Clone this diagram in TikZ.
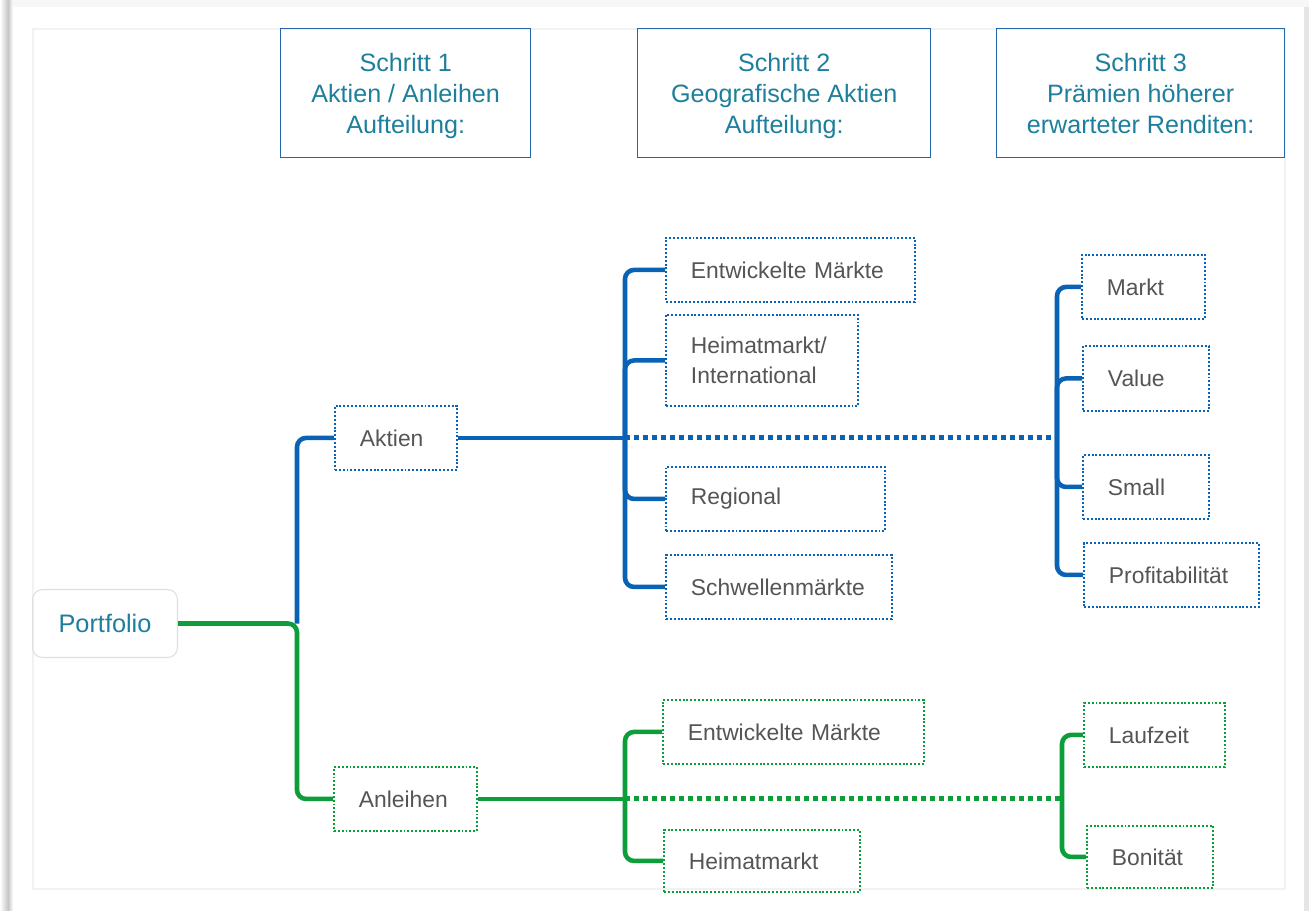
\documentclass[tikz,border=0pt]{standalone}
\usepackage{fontspec}
\setmainfont{Liberation Sans}
\usepackage{xcolor}
\usepackage{tikz}
\usetikzlibrary{calc}
\usetikzlibrary{backgrounds}
\definecolor{headcolor}{HTML}{1E7F9C}
\definecolor{framecolor}{HTML}{2368AE}
\definecolor{bluecolor}{HTML}{0A62B4}
\definecolor{greencolor}{HTML}{0C9E38}
\definecolor{textcolor}{HTML}{555555}

\begin{document}
\begin{tikzpicture}[x=0.02cm,y=-0.02cm,
  stepbox/.style={draw=framecolor,line width=0.8pt,anchor=north west,align=center,
    text=headcolor,font=\fontsize{14.3}{17.6}\selectfont,minimum height=2.58cm},
  rootbox/.style={draw=gray!25,line width=0.6pt,rounded corners=0.2cm,anchor=north west,
    text=headcolor,font=\fontsize{14.4}{17}\selectfont,minimum width=2.9cm,minimum height=1.36cm},
  leafbox/.style={line width=1.1pt,dash pattern=on 1.1pt off 1.1pt,anchor=north west,
    align=left,inner xsep=0.5cm,text=textcolor,font=\fontsize{13}{17}\selectfont,minimum height=1.28cm},
  bluebox/.style={leafbox,draw=bluecolor},
  greenbox/.style={leafbox,draw=greencolor},
  blueline/.style={draw=bluecolor,line width=2.6pt,rounded corners=0.18cm},
  greenline/.style={draw=greencolor,line width=2.6pt,rounded corners=0.18cm},
  bluedots/.style={draw=bluecolor,line width=2.8pt,dash pattern=on 2.8pt off 2.3pt},
  greendots/.style={draw=greencolor,line width=2.8pt,dash pattern=on 2.8pt off 2.3pt}]
\useasboundingbox (0,0) rectangle (1309,911);
\fill[white] (0,0) rectangle (1309,911);
% page frame
\fill[gray!6] (0,0) rectangle (1309,7);
\shade[left color=white,right color=gray!45] (0,0) rectangle (8,911);
\shade[left color=gray!45,right color=white] (8,0) rectangle (13,911);
\fill[gray!20] (1304,7) rectangle (1309,911);
\draw[gray!10,line width=0.6pt] (33,29) rectangle (1285,889);

% steps
\node[stepbox,minimum width=5cm] (s1) at (280,28) {Schritt 1\\Aktien / Anleihen\\Aufteilun\smash{g}:};
\node[stepbox,minimum width=5.86cm] (s2) at (637,28) {Schritt 2\\Geografische Aktien\\Aufteilun\smash{g}:};
\node[stepbox,minimum width=5.76cm] (s3) at (996,28) {Schritt 3\\Prämien höherer\\erwarteter Renditen:};

% tree
\node[rootbox] (port) at (32,589) {Portfolio};
\node[bluebox,text width=1.44cm] (akt) at (334,405) {Aktien};
\node[greenbox,text width=1.86cm] (anl) at (333,766) {Anleihen};

\node[bluebox,text width=3.98cm] (ewA) at (665,237) {Entwickelte Märkte};
\node[bluebox,text width=2.84cm,minimum height=1.82cm] (heimA) at (665,314) {Heimatmarkt/\\International};
\node[bluebox,text width=3.38cm] (regio) at (665,466) {Regional};
\node[bluebox,text width=3.52cm] (schw) at (665,554) {Schwellenmärkte};

\node[bluebox,text width=1.46cm] (markt) at (1081,254) {Markt};
\node[bluebox,text width=1.52cm,minimum height=1.3cm] (value) at (1082,345) {Value};
\node[bluebox,text width=1.52cm] (small) at (1082,454) {Small};
\node[bluebox,text width=2.5cm] (profit) at (1083,542) {Profitabilität};

\node[greenbox,text width=4.22cm] (ewB) at (662,699) {Entwickelte Märkte};
\node[greenbox,text width=2.92cm,minimum height=1.24cm] (heimB) at (663,829) {Heimatmarkt};
\node[greenbox,text width=1.82cm] (lauf) at (1083,702) {Laufzeit};
\node[greenbox,text width=1.52cm,minimum height=1.24cm] (boni) at (1086,825) {Bonität};

\coordinate (j0) at ([xshift=-0.74cm]port.east -| akt.west);
\coordinate (j1) at ([xshift=-0.8cm]akt.east -| ewA.west);
\coordinate (j2) at ([xshift=-0.48cm]j1 -| markt.west);
\coordinate (j3) at ([xshift=-0.74cm]anl.east -| ewB.west);
\coordinate (j4) at ([xshift=-0.42cm]j3 -| lauf.west);

\draw[blueline] (j0) |- (akt.west);
\draw[greenline] (port.east) -- (j0) |- (anl.west);
\draw[blueline] (akt.east) -- (j1);
\foreach \n in {ewA,heimA,regio,schw}
  \draw[blueline] (j1) |- (\n.west);
\draw[bluedots] (j1) -- (j2);
\foreach \n in {markt,value,small,profit}
  \draw[blueline] (j2) |- (\n.west);
\draw[greenline] (anl.east) -- (j3);
\foreach \n in {ewB,heimB}
  \draw[greenline] (j3) |- (\n.west);
\draw[greendots] (j3) -- (j4);
\foreach \n in {lauf,boni}
  \draw[greenline] (j4) |- (\n.west);
\end{tikzpicture}
\end{document}
